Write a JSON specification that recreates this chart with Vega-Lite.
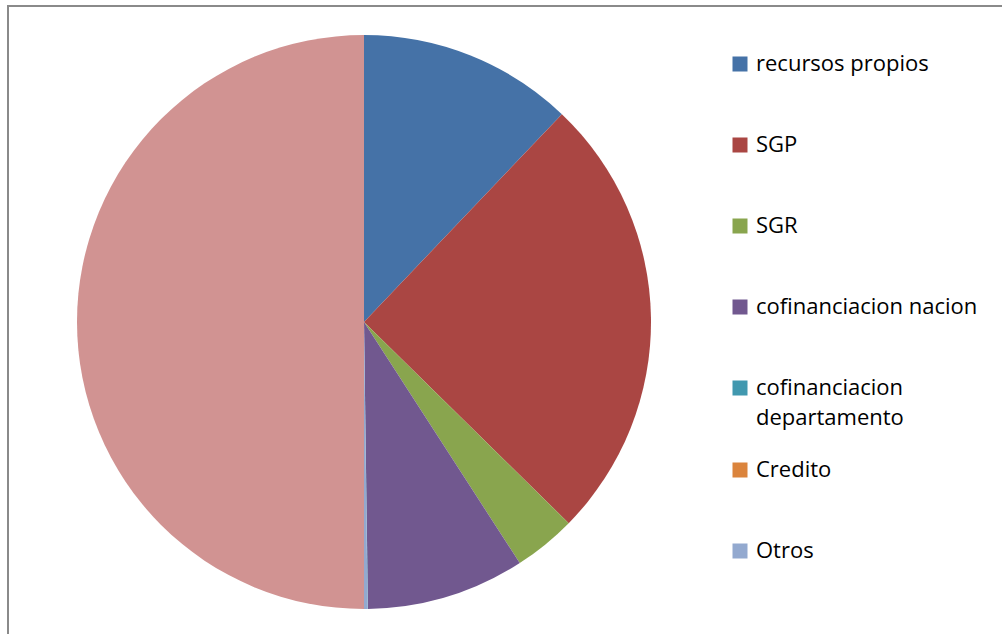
{
  "$schema": "https://vega.github.io/schema/vega-lite/v6.json",
  "autosize": "none",
  "width": 1000,
  "height": 640,
  "padding": {"left": 8, "top": 6, "right": -6, "bottom": -12},
  "background": "white",
  "config": {
    "view": {"stroke": null},
    "style": {"guide-label": {"lineHeight": 30}}
  },
  "data": {
    "values": [
      {"fuente": "recursos propios", "valor": 12.11, "idx": 1},
      {"fuente": "SGP", "valor": 25.25, "idx": 2},
      {"fuente": "SGR", "valor": 3.51, "idx": 3},
      {"fuente": "cofinanciacion nacion", "valor": 8.91, "idx": 4},
      {"fuente": "cofinanciacion departamento", "valor": 0.02, "idx": 5},
      {"fuente": "Credito", "valor": 0, "idx": 6},
      {"fuente": "Otros", "valor": 0.2, "idx": 7},
      {"fuente": "Total", "valor": 50.0, "idx": 8}
    ]
  },
  "layer": [
    {
      "mark": {"type": "rect", "fill": null, "stroke": "#8a8a8a", "strokeWidth": 2, "filled": false},
      "encoding": {}
    },
    {
      "mark": {"type": "arc", "radius": 287, "x": 356, "y": 316},
      "encoding": {
        "theta": {"field": "valor", "type": "quantitative", "stack": true},
        "order": {"field": "idx", "type": "quantitative", "sort": "ascending"},
        "color": {
          "field": "fuente",
          "type": "nominal",
          "scale": {
            "domain": ["recursos propios", "SGP", "SGR", "cofinanciacion nacion", "cofinanciacion departamento", "Credito", "Otros", "Total"],
            "range": ["#4572A7", "#AA4643", "#89A54E", "#71588F", "#4198AF", "#DB843D", "#93A9CF", "#D19392"]
          },
          "legend": {
            "title": null,
            "orient": "none",
            "legendX": 721,
            "legendY": 17.67,
            "padding": 0,
            "values": ["recursos propios", "SGP", "SGR", "cofinanciacion nacion", "cofinanciacion departamento", "Credito", "Otros"],
            "symbolType": "square",
            "symbolSize": 225,
            "symbolStrokeWidth": 0,
            "symbolOffset": 0,
            "labelOffset": 5,
            "labelFont": "Open Sans",
            "labelFontSize": 22,
            "labelColor": "#000000",
            "labelLimit": 400,
            "labelExpr": "datum.label == 'cofinanciacion departamento' ? ['cofinanciacion', 'departamento'] : datum.label",
            "clipHeight": 80.67,
            "rowPadding": 0
          }
        }
      }
    }
  ]
}
